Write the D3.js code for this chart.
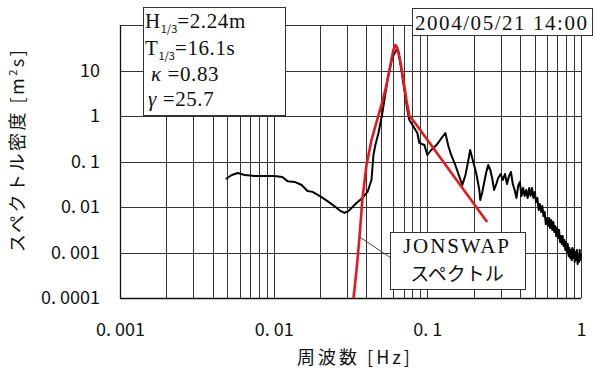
<!DOCTYPE html>
<html>
<head>
<meta charset="utf-8">
<script src="https://cdn.jsdelivr.net/npm/d3@7"></script>
<style>
  body { margin: 0; background: #fff; }
  svg { display: block; }
</style>
</head>
<body>
<svg id="chart" width="595" height="372"></svg>
<script>
// Measured wave spectrum (frequency [Hz], spectral density [m^2 s])
const measuredFreq = [
  0.00488, 0.00534, 0.00584, 0.00648, 0.00753, 0.00874, 0.0101, 0.0114, 0.0123, 0.0137,
  0.0152, 0.0166, 0.0179, 0.0199, 0.0224, 0.0253, 0.0272, 0.0289, 0.0307, 0.0346,
  0.0378, 0.0408, 0.0433, 0.0446, 0.0459, 0.0481, 0.0511, 0.0550, 0.0593, 0.0629,
  0.0648, 0.0678, 0.0709, 0.0741, 0.0764, 0.0800, 0.0861, 0.0887, 0.0957, 0.100,
  0.106, 0.113, 0.120, 0.125, 0.131, 0.137, 0.143, 0.152, 0.161, 0.169,
  0.177, 0.185, 0.190, 0.199, 0.208, 0.218, 0.221, 0.228, 0.234, 0.242,
  0.249, 0.257, 0.264, 0.272, 0.281, 0.289,
  0.30, 0.31, 0.32, 0.33, 0.34, 0.35, 0.36, 0.37, 0.38, 0.39,
  0.40, 0.41, 0.42, 0.43, 0.44, 0.45, 0.46, 0.47, 0.48, 0.49,
  0.50, 0.51, 0.52, 0.53, 0.54, 0.55, 0.56, 0.57, 0.58, 0.59,
  0.60, 0.61, 0.62, 0.63, 0.64, 0.65, 0.66, 0.67, 0.68, 0.69,
  0.70, 0.71, 0.72, 0.73, 0.74, 0.75, 0.76, 0.77, 0.78, 0.79,
  0.80, 0.81, 0.82, 0.83, 0.84, 0.85, 0.86, 0.87, 0.88, 0.89,
  0.90, 0.91, 0.92, 0.93, 0.94, 0.95, 0.96, 0.97, 0.98, 0.99, 1.00
];
const measuredDensity = [
  0.0412, 0.0505, 0.0559, 0.0505, 0.048, 0.048, 0.048, 0.0457, 0.037, 0.0356,
  0.0305, 0.0225, 0.0215, 0.0175, 0.0135, 0.0100, 0.0082, 0.0074, 0.0082, 0.0122,
  0.0158, 0.0214, 0.0392, 0.139, 0.231, 0.423, 1.22, 6.18, 19.8, 28.3,
  26.8, 10.3, 3.72, 1.36, 0.817, 0.634, 0.423, 0.255, 0.231, 0.139,
  0.179, 0.219, 0.282, 0.345, 0.423, 0.219, 0.139, 0.0838, 0.048, 0.0305,
  0.0505, 0.108, 0.179, 0.0975, 0.0559, 0.0237, 0.0143, 0.0214, 0.0337, 0.0588,
  0.0838, 0.065, 0.0434, 0.0237, 0.032, 0.0434,
  0.0531, 0.0392, 0.0531, 0.032, 0.048, 0.0588, 0.032, 0.0237, 0.0158, 0.029,
  0.0354, 0.0175, 0.0262, 0.0175, 0.0237, 0.0158, 0.0262, 0.0175, 0.0262, 0.0158,
  0.0214, 0.0129, 0.0158, 0.0086, 0.0116, 0.0078, 0.0105, 0.0063, 0.0078, 0.0042,
  0.0057, 0.0038, 0.0057, 0.00345, 0.0052, 0.00313, 0.0047, 0.00282, 0.0038, 0.0023,
  0.00345, 0.00208, 0.00313, 0.0017, 0.0023, 0.00154, 0.0023, 0.00139, 0.00188, 0.00114,
  0.0017, 0.00103, 0.00154, 0.00084, 0.00126, 0.00076, 0.00114, 0.00068, 0.00126, 0.00076,
  0.00114, 0.00062, 0.00103, 0.00068, 0.00114, 0.00056, 0.00093, 0.00062, 0.00114, 0.00068, 0.00093
];

// Fitted JONSWAP spectrum
const jonswapFreq = [
  0.0331, 0.0346, 0.0362, 0.0378, 0.0402, 0.0433, 0.0467, 0.0503, 0.0542, 0.0575,
  0.0601, 0.0620, 0.0638, 0.0668, 0.0699, 0.0731, 0.0764, 0.0824, 0.139, 0.245
];
const jonswapDensity = [
  0.0001, 0.00041, 0.0022, 0.015, 0.0838, 0.297, 0.738, 1.75, 4.8, 13.2,
  28.3, 36.3, 31.3, 15.4, 6.2, 2.25, 1.0, 0.738, 0.065, 0.0047
];

// Axis ticks and labels
const xTicks = [0.001, 0.01, 0.1, 1];
const xTickLabels = ["0. 001", "0. 01", "0. 1", "1"];
const yTicks = [0.0001, 0.001, 0.01, 0.1, 1, 10];
const yTickLabels = ["0. 0001", "0. 001", "0. 01", "0. 1", "1", "10"];

// Wave statistics shown in the info box
const statSymbols = ["H", "T", "\u03BA", "\u03B3"];
const statSubscripts = ["1/3", "1/3", "", ""];
const statValues = ["=2.24m", "=16.1s", " =0.83", " =25.7"];
const recordTime = "2004/05/21 14:00";
const fitLabel = ["JONSWAP", "スペクトル"];

const svg = d3.select("#chart");
const m = { left: 120, right: 581, top: 25, bottom: 298 };

const x = d3.scaleLog().domain([0.001, 1]).range([m.left, m.right]);
const y = d3.scaleLog().domain([0.0001, 100]).range([m.bottom, m.top]);

const gridColor = "#333";

// Vertical grid: every 1..9 multiple in each decade
const xGrid = [];
for (let d = -3; d < 0; d++) {
  for (let k = 1; k <= 9; k++) xGrid.push(k * Math.pow(10, d));
}
xGrid.push(1);
svg.append("g").selectAll("line").data(xGrid).join("line")
  .attr("x1", d => Math.round(x(d)) + 0.5).attr("x2", d => Math.round(x(d)) + 0.5)
  .attr("y1", m.top).attr("y2", m.bottom)
  .attr("stroke", gridColor).attr("stroke-width", 1);

// Horizontal grid: decades only
const yGrid = [0.0001, 0.001, 0.01, 0.1, 1, 10, 100];
svg.append("g").selectAll("line").data(yGrid).join("line")
  .attr("x1", m.left).attr("x2", m.right)
  .attr("y1", d => Math.round(y(d)) + 0.5).attr("y2", d => Math.round(y(d)) + 0.5)
  .attr("stroke", gridColor).attr("stroke-width", 1);

// Axis frame (left and bottom)
svg.append("line").attr("x1", m.left + 0.5).attr("x2", m.left + 0.5)
  .attr("y1", m.top).attr("y2", m.bottom + 0.5).attr("stroke", "#111").attr("stroke-width", 1.3);
svg.append("line").attr("x1", m.left).attr("x2", m.right)
  .attr("y1", m.bottom + 0.5).attr("y2", m.bottom + 0.5).attr("stroke", "#111").attr("stroke-width", 1.3);

const tickFont = "'Noto Sans CJK JP', 'Noto Sans', sans-serif";

// X axis labels
const xAxis = d3.axisBottom(x).tickValues(xTicks).tickSize(0).tickPadding(25)
  .tickFormat((d, i) => xTickLabels[i]);
const gx = svg.append("g").attr("transform", `translate(0,${m.bottom})`).call(xAxis);
gx.select(".domain").remove();
gx.selectAll("text").attr("font-family", tickFont).attr("font-size", 18).attr("fill", "#111");

// Y axis labels
const yAxis = d3.axisLeft(y).tickValues(yTicks).tickSize(0).tickPadding(20)
  .tickFormat((d, i) => yTickLabels[i]);
const gy = svg.append("g").attr("transform", `translate(${m.left},0)`).call(yAxis);
gy.select(".domain").remove();
gy.selectAll("text").attr("font-family", tickFont).attr("font-size", 18).attr("fill", "#111");

// Axis titles
svg.append("text")
  .attr("x", 355).attr("y", 364)
  .attr("text-anchor", "middle")
  .attr("font-family", tickFont).attr("font-size", 18).attr("letter-spacing", 3)
  .attr("fill", "#111")
  .text("周波数 [Hz]");

const yTitle = svg.append("text")
  .attr("transform", "translate(24,150) rotate(-90)")
  .attr("text-anchor", "middle")
  .attr("font-family", tickFont).attr("font-size", 18).attr("letter-spacing", 2.5)
  .attr("fill", "#111");
yTitle.append("tspan").text("スペクトル密度 [m");
yTitle.append("tspan").attr("font-size", 11).attr("dy", -7).text("2");
yTitle.append("tspan").attr("dy", 7).text("s]");

// Clip curves to the plot area
svg.append("defs").append("clipPath").attr("id", "plot-clip")
  .append("rect").attr("x", m.left).attr("y", m.top)
  .attr("width", m.right - m.left + 2).attr("height", m.bottom - m.top);

const line = d3.line().x(d => x(d[0])).y(d => y(d[1]));

// Measured spectrum
svg.append("path")
  .datum(measuredFreq.map((f, i) => [f, measuredDensity[i]]))
  .attr("clip-path", "url(#plot-clip)")
  .attr("fill", "none").attr("stroke", "#000").attr("stroke-width", 2)
  .attr("stroke-linejoin", "round")
  .attr("d", line);

// JONSWAP spectrum
svg.append("path")
  .datum(jonswapFreq.map((f, i) => [f, jonswapDensity[i]]))
  .attr("clip-path", "url(#plot-clip)")
  .attr("fill", "none").attr("stroke", "#e8161e").attr("stroke-width", 2.6)
  .attr("stroke-linejoin", "round")
  .attr("d", line);

// Leader from the JONSWAP curve to its label
svg.append("line")
  .attr("x1", x(jonswapFreq[2])).attr("y1", y(jonswapDensity[2]))
  .attr("x2", 391).attr("y2", 258)
  .attr("stroke", "#444").attr("stroke-width", 1);

const serif = "'Liberation Serif', 'DejaVu Serif', serif";

// JONSWAP label box
svg.append("rect").attr("x", 390.5).attr("y", 232.5).attr("width", 135).attr("height", 57)
  .attr("fill", "#fff").attr("stroke", "#333").attr("stroke-width", 1);
svg.append("text").attr("x", 403).attr("y", 253)
  .attr("font-family", serif).attr("font-size", 21).attr("fill", "#111")
  .attr("textLength", 106).attr("lengthAdjust", "spacing")
  .text(fitLabel[0]);
svg.append("text").attr("x", 457).attr("y", 281).attr("text-anchor", "middle")
  .attr("font-family", tickFont).attr("font-size", 19).attr("fill", "#111")
  .text(fitLabel[1]);

// Wave statistics box
svg.append("rect").attr("x", 143.5).attr("y", 7.5).attr("width", 142).attr("height", 108)
  .attr("fill", "#fff").attr("stroke", "#333").attr("stroke-width", 1);
const statBaselines = [28, 55, 81, 106];
const statX = [145, 145, 151, 148];
statSymbols.forEach((s, i) => {
  const t = svg.append("text")
    .attr("x", statX[i]).attr("y", statBaselines[i])
    .attr("font-family", serif).attr("font-size", 21).attr("fill", "#111")
    .attr("letter-spacing", 0.6);
  t.append("tspan").attr("font-style", (i >= 2) ? "italic" : "normal").text(s);
  if (statSubscripts[i]) {
    t.append("tspan").attr("font-family", tickFont).attr("font-size", 11)
      .attr("dy", 5).attr("letter-spacing", 0).text(statSubscripts[i]);
    t.append("tspan").attr("dy", -5).text(statValues[i]);
  } else {
    t.append("tspan").text(statValues[i]);
  }
});

// Record time box
svg.append("rect").attr("x", 412.5).attr("y", 8.5).attr("width", 180).attr("height", 27)
  .attr("fill", "#fff").attr("stroke", "#333").attr("stroke-width", 1);
svg.append("text").attr("x", 415).attr("y", 30)
  .attr("font-family", serif).attr("font-size", 21).attr("fill", "#111")
  .attr("textLength", 172).attr("lengthAdjust", "spacing")
  .text(recordTime);
</script>
</body>
</html>
